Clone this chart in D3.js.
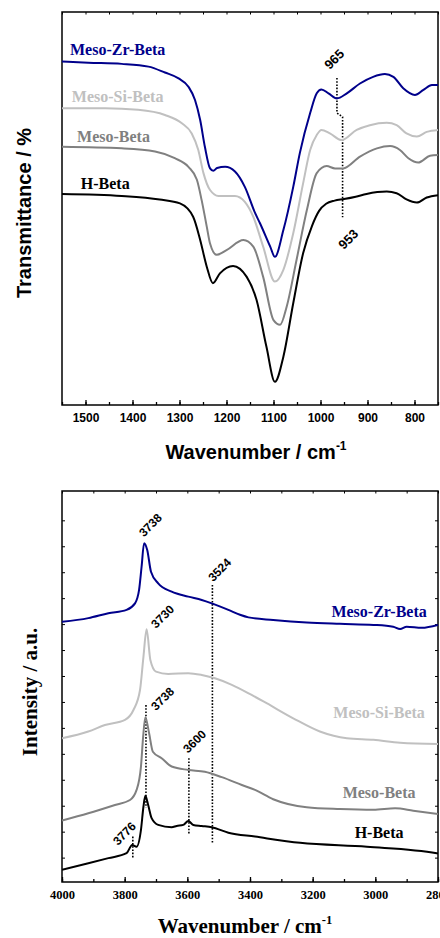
<!DOCTYPE html>
<html><head><meta charset="utf-8">
<script src="https://cdn.jsdelivr.net/npm/d3@7"></script>
<style>
html,body{margin:0;padding:0;background:#fff;}
svg{display:block;}
</style></head>
<body>
<svg id="chart" width="440" height="938"></svg>
<script>
// ---------- DATA: top panel (FT-IR framework region, transmittance a.u.) ----------
const seriesNames = ["Meso-Zr-Beta", "Meso-Si-Beta", "Meso-Beta", "H-Beta"];
const seriesColors = ["#00008b", "#c0c0c0", "#808080", "#000000"];

const topZr = [[1550,87.4],[1494,87.1],[1423,86.8],[1366,86.1],[1331,84.6],[1302,83.1],[1281,81.0],[1267,77.6],[1256,72.5],[1246,65.7],[1235,60.2],[1228,59.6],[1220,60.3],[1203,60.6],[1182,59.4],[1161,55.5],[1139,48.8],[1129,46.3],[1107,40.3],[1097,37.7],[1079,44.5],[1058,55.5],[1044,64.1],[1022,74.3],[1008,79.3],[998,80.3],[983,79.3],[965,78.0],[944,79.3],[916,81.8],[888,83.5],[863,84.2],[845,83.5],[824,80.6],[799,78.9],[781,80.2],[763,81.4],[750,81.4]];
const topSi = [[1550,75.5],[1458,75.5],[1388,75.1],[1331,73.8],[1295,71.7],[1274,69.1],[1260,64.9],[1249,59.0],[1235,54.7],[1217,53.2],[1182,53.2],[1161,51.7],[1143,47.9],[1122,40.3],[1097,31.4],[1079,34.4],[1058,43.7],[1037,56.4],[1022,64.9],[1008,68.7],[998,70.0],[980,69.1],[955,67.4],[923,70.0],[895,71.2],[859,71.8],[838,71.2],[817,69.1],[795,68.3],[774,69.5],[750,70.0]];
const topMeso = [[1550,65.7],[1423,65.3],[1352,64.5],[1310,62.8],[1281,60.6],[1263,57.3],[1253,52.2],[1242,45.4],[1235,41.1],[1221,38.2],[1200,39.4],[1164,42.0],[1143,40.3],[1122,32.6],[1100,21.6],[1086,20.4],[1072,25.0],[1051,36.9],[1029,49.6],[1008,59.0],[987,60.8],[969,60.2],[952,60.2],[916,63.2],[880,65.3],[852,65.9],[831,64.9],[813,62.8],[792,61.7],[767,63.4],[750,63.6]];
const topH = [[1550,53.7],[1423,53.2],[1342,52.3],[1299,51.3],[1271,47.9],[1256,42.0],[1242,35.2],[1229,31.0],[1214,33.5],[1186,35.4],[1157,32.6],[1136,26.7],[1115,14.8],[1097,5.9],[1079,12.3],[1058,25.9],[1037,38.6],[1018,45.6],[1003,49.4],[988,51.2],[970,52.0],[950,52.4],[925,53.0],[902,53.7],[859,54.3],[838,53.9],[817,52.3],[795,51.5],[774,52.8],[750,53.4]];
const topXTicks = [1500,1400,1300,1200,1100,1000,900,800];
const topLabelPos = [[1533,89.1],[1529,77.1],[1518,66.9],[1510,55.0]];
const topMarkLines = [[[965,83.2],[965,74.3],[953,73.3],[953,47.8]]];
const topMarkTexts = [["965",971,88.0],["953",941,42.2]];

// ---------- DATA: bottom panel (OH stretching region, intensity a.u.) ----------
const botZr = [[4000,9.09],[3916,9.23],[3852,9.42],[3794,9.55],[3767,9.80],[3754,10.32],[3746,11.21],[3738,12.12],[3728,11.86],[3716,11.02],[3693,10.57],[3650,10.25],[3597,10.06],[3554,9.93],[3522,9.80],[3469,9.55],[3432,9.36],[3405,9.26],[3326,9.16],[3219,9.06],[3113,9.01],[3006,8.97],[2943,8.90],[2921,8.81],[2900,8.90],[2852,8.86],[2800,8.97]];
const botSi = [[4000,4.60],[3916,4.86],[3863,5.11],[3799,5.31],[3772,5.69],[3751,6.46],[3740,7.75],[3730,8.80],[3718,7.62],[3700,7.17],[3661,7.08],[3597,7.11],[3554,7.04],[3512,6.91],[3458,6.66],[3395,6.27],[3347,5.95],[3262,5.37],[3177,4.86],[3091,4.60],[3006,4.54],[2921,4.43],[2800,4.38]];
const botMeso = [[4000,1.43],[3916,1.71],[3831,2.03],[3783,2.22],[3762,2.61],[3748,3.51],[3741,4.66],[3734,5.41],[3722,4.79],[3710,4.08],[3682,3.83],[3650,3.51],[3597,3.38],[3544,3.31],[3490,3.10],[3426,2.80],[3384,2.61],[3326,2.25],[3219,1.94],[3113,1.87],[3006,1.84],[2937,1.90],[2879,1.81],[2800,1.68]];
const botH = [[4000,-0.47],[3916,-0.22],[3852,-0.02],[3794,0.17],[3776,0.49],[3762,0.42],[3748,1.07],[3740,1.97],[3734,2.38],[3725,2.03],[3714,1.52],[3693,1.26],[3650,1.17],[3634,1.22],[3613,1.26],[3597,1.41],[3581,1.26],[3554,1.22],[3522,1.17],[3469,0.96],[3384,0.81],[3240,0.57],[3027,0.42],[2804,0.17],[2800,0.16]];
const botXTicks = [4000,3800,3600,3400,3200,3000,2800];
const botLabelPos = [[2988,9.28],[2988,5.38],[2988,2.30],[2988,0.76]];
const botMarkLines = [[[3732,5.88],[3732,1.92]],[[3595,3.83],[3595,0.91]],[[3520,10.51],[3520,0.57]],[[3774,0.81],[3774,-0.02]]];
const botMarkTexts = [["3738",3718,12.82],["3524",3497,11.09],["3730",3679,9.29],["3738",3679,6.12],["3600",3577,4.48],["3776",3801,0.93]];

// ---------- DRAWING ----------
const svg = d3.select("#chart");
const L = 62, R = 438;

function drawPanel(o) {
  const x = d3.scaleLinear().domain(o.xDomain).range([L, R]);
  const y = d3.scaleLinear().domain(o.yDomain).range([o.bottom, o.top]);
  const g = svg.append("g");

  // axes (ticks inward)
  g.append("g").attr("transform", `translate(0,${o.bottom})`)
    .call(d3.axisBottom(x).tickValues(o.minorTicks).tickSize(-3).tickFormat(""))
    .call(a => a.select(".domain").remove())
    .selectAll("line").attr("stroke", "#000").attr("stroke-width", 1.3);
  const bx = g.append("g").attr("transform", `translate(0,${o.bottom})`)
    .call(d3.axisBottom(x).tickValues(o.xTicks).tickSizeInner(-5).tickSizeOuter(0).tickPadding(8).tickFormat(d3.format("d")));
  bx.select(".domain").remove();
  bx.selectAll("line").attr("stroke", "#000").attr("stroke-width", 1.3);
  bx.selectAll("text").attr("font-family", o.tickFont).attr("font-weight", "bold")
    .attr("font-size", o.tickSize).attr("fill", "#000");
  g.append("g").attr("transform", `translate(0,${o.top})`)
    .call(d3.axisTop(x).tickValues(o.topTicks).tickSize(-2.5).tickFormat(""))
    .call(a => a.select(".domain").remove())
    .selectAll("line").attr("stroke", "#000").attr("stroke-width", 1);
  if (o.yTicks) {
    g.append("g").attr("transform", `translate(${L},0)`)
      .call(d3.axisLeft(y).tickValues(o.yTicks).tickSize(-3).tickFormat(""))
      .call(a => a.select(".domain").remove())
      .selectAll("line").attr("stroke", "#000").attr("stroke-width", 1);
    g.append("g").attr("transform", `translate(${R},0)`)
      .call(d3.axisRight(y).tickValues(o.yTicks).tickSize(-3).tickFormat(""))
      .call(a => a.select(".domain").remove())
      .selectAll("line").attr("stroke", "#000").attr("stroke-width", 1);
  }
  // frame
  g.append("rect").attr("x", L).attr("y", o.top).attr("width", R - L).attr("height", o.bottom - o.top)
    .attr("fill", "none").attr("stroke", "#000").attr("stroke-width", 1.5);

  const clipId = "clip" + o.top;
  svg.append("clipPath").attr("id", clipId).append("rect")
    .attr("x", L).attr("y", o.top).attr("width", R - L).attr("height", o.bottom - o.top);

  // dotted marker lines
  const ln = d3.line().x(d => x(d[0])).y(d => y(d[1]));
  o.markLines.forEach(m => {
    g.append("path").attr("d", ln(m)).attr("fill", "none").attr("stroke", "#000")
      .attr("stroke-width", 1.6).attr("stroke-dasharray", "1.6,1.6");
  });

  // curves
  const line = d3.line().x(d => x(d[0])).y(d => y(d[1])).curve(d3.curveMonotoneX);
  const cg = g.append("g").attr("clip-path", `url(#${clipId})`);
  o.series.forEach((s, i) => {
    cg.append("path").attr("d", line(s)).attr("fill", "none")
      .attr("stroke", seriesColors[i]).attr("stroke-width", o.lw).attr("stroke-linejoin", "round");
  });

  // series labels
  seriesNames.forEach((n, i) => {
    g.append("text").attr("x", x(o.labelPos[i][0])).attr("y", y(o.labelPos[i][1]))
      .attr("text-anchor", o.labelAnchor).attr("font-family", "'Liberation Serif', 'Times New Roman', serif")
      .attr("font-weight", "bold").attr("font-size", o.labelSize).attr("fill", seriesColors[i]).text(n);
  });

  // peak annotations
  o.markTexts.forEach(t => {
    const px = x(t[1]), py = y(t[2]);
    g.append("text").attr("transform", `translate(${px},${py}) rotate(-45)`)
      .attr("text-anchor", "middle").attr("dy", "0.35em")
      .attr("font-family", "'Liberation Sans', Arial, sans-serif").attr("font-weight", "bold")
      .attr("font-size", o.markSize).attr("fill", "#000").text(t[0]);
  });

  // axis titles
  const xt = g.append("text").attr("x", o.xTitle[0]).attr("y", o.xTitle[1]).attr("text-anchor", "middle")
    .attr("font-family", o.titleFont).attr("font-weight", "bold").attr("font-size", o.titleSize).attr("fill", "#000");
  xt.append("tspan").text("Wavenumber / cm");
  xt.append("tspan").attr("dy", -o.titleSize * 0.45).attr("font-size", o.titleSize * 0.6).text("-1");
  g.append("text").attr("transform", `translate(${o.yTitle[0]},${o.yTitle[1]}) rotate(-90)`)
    .attr("text-anchor", "middle").attr("dy", "0.35em")
    .attr("font-family", o.titleFont).attr("font-weight", "bold").attr("font-size", o.titleSize).attr("fill", "#000")
    .text(o.yTitleText);
}

drawPanel({
  xDomain: [1550, 750], yDomain: [0, 100], top: 12, bottom: 405,
  xTicks: topXTicks, minorTicks: d3.range(1550, 749, -50), topTicks: d3.range(1550, 749, -50),
  yTicks: null, series: [topZr, topSi, topMeso, topH], lw: 2,
  labelPos: topLabelPos, labelAnchor: "start", labelSize: 16,
  markLines: topMarkLines, markTexts: topMarkTexts, markSize: 13,
  tickFont: "'Liberation Sans', Arial, sans-serif", tickSize: 12,
  titleFont: "'Liberation Sans', Arial, sans-serif", titleSize: 20,
  xTitle: [256, 459], yTitle: [24, 213], yTitleText: "Transmittance / %"
});

drawPanel({
  xDomain: [4000, 2800], yDomain: [-0.94, 14.13], top: 491, bottom: 882,
  xTicks: botXTicks, minorTicks: d3.range(4000, 2799, -100), topTicks: d3.range(4000, 2799, -100),
  yTicks: d3.range(0, 14), series: [botZr, botSi, botMeso, botH], lw: 2,
  labelPos: botLabelPos, labelAnchor: "middle", labelSize: 16,
  markLines: botMarkLines, markTexts: botMarkTexts, markSize: 12,
  tickFont: "'Liberation Serif', 'Times New Roman', serif", tickSize: 12.5,
  titleFont: "'Liberation Serif', 'Times New Roman', serif", titleSize: 21,
  xTitle: [245, 933], yTitle: [30, 692], yTitleText: "Intensity / a.u."
});
</script>
</body></html>
